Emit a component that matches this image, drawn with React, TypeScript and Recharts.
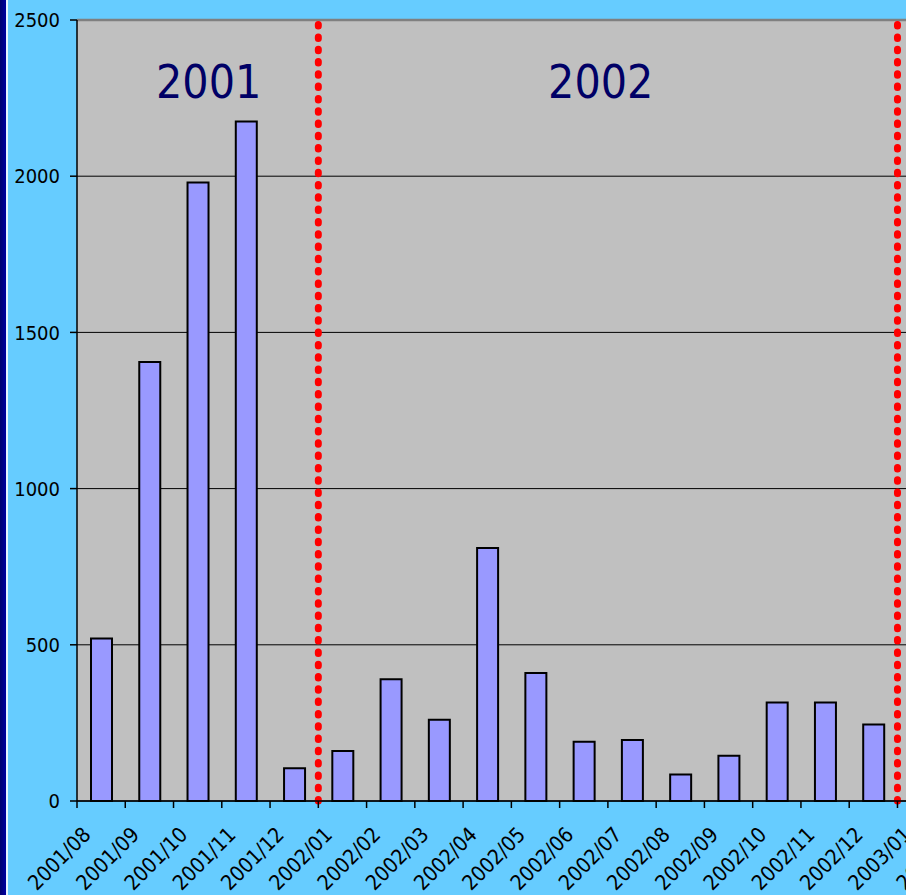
import React from "react";
import {
  Bar,
  BarChart,
  CartesianGrid,
  ReferenceLine,
  XAxis,
  YAxis,
} from "recharts";

const FONT = "'DejaVu Sans Condensed', 'Liberation Sans', Arial, sans-serif";

const months = [
  "2001/08", "2001/09", "2001/10", "2001/11", "2001/12",
  "2002/01", "2002/02", "2002/03", "2002/04", "2002/05", "2002/06",
  "2002/07", "2002/08", "2002/09", "2002/10", "2002/11", "2002/12",
  "2003/01", "2003/02",
];

const counts: (number | null)[] = [
  520, 1405, 1980, 2175, 105,
  160, 390, 260, 810, 410, 190,
  195, 85, 145, 315, 315, 245,
  null, null,
];

const yTicks = [0, 500, 1000, 1500, 2000, 2500];

// year boundaries (start of first month of the year)
const yearStarts = ["2002/01", "2003/01"];

const data = months.map((month, i) => ({ month, count: counts[i] }));

function MonthTick(props: any) {
  const { x, y, payload } = props;
  const edge = x - (payload.offset ?? 24.13);
  const tx = x - 9;
  const ty = y + 35;
  return (
    <g>
      <line x1={edge} y1={y} x2={edge} y2={y + 7} stroke="#000" strokeWidth={1.5} />
      <text
        x={tx}
        y={ty}
        transform={`rotate(-45 ${tx} ${ty})`}
        textAnchor="end"
        fontSize={21}
        fontFamily={FONT}
        fill="#000"
      >
        {payload.value}
      </text>
    </g>
  );
}

function YearLabel(props: any) {
  const { viewBox, text, shift } = props;
  if (!viewBox) return null;
  return (
    <text
      x={viewBox.x + shift}
      y={viewBox.y + 78}
      textAnchor="middle"
      fontSize={46}
      fontFamily={FONT}
      fill="#000066"
    >
      {text}
    </text>
  );
}

export default function App() {
  return (
    <div
      style={{
        position: "absolute",
        left: 0,
        top: 0,
        width: 906,
        height: 895,
        overflow: "hidden",
        background: "#66CCFF",
      }}
    >
      <div
        style={{
          position: "absolute",
          left: 0,
          top: 0,
          width: 6,
          height: 895,
          background: "linear-gradient(to right, #000070, #0000A0)",
          borderRight: "2px solid #E8F4FF",
        }}
      />
      <BarChart
        width={994}
        height={895}
        data={data}
        margin={{ top: 20, right: 0, bottom: 0, left: 0 }}
        barSize={21}
      >
        <CartesianGrid vertical={false} stroke="#000" fill="#C0C0C0" fillOpacity={1} />
        <XAxis
          dataKey="month"
          interval={0}
          height={94}
          tickLine={false}
          tickSize={0}
          tickMargin={0}
          axisLine={{ stroke: "#000", strokeWidth: 1.5 }}
          tick={<MonthTick />}
        />
        <YAxis
          width={77}
          domain={[0, 2500]}
          ticks={yTicks}
          interval={0}
          tickSize={7}
          tickMargin={10}
          tickLine={{ stroke: "#000", strokeWidth: 1.5 }}
          axisLine={{ stroke: "#000", strokeWidth: 1.5 }}
          tick={{ fill: "#000", fontSize: 20, fontFamily: FONT }}
        />
        <ReferenceLine y={2500} stroke="#808080" strokeWidth={2.5} />
        <Bar
          dataKey="count"
          fill="#9999FF"
          stroke="#000"
          strokeWidth={2}
          isAnimationActive={false}
        />
        {yearStarts.map((m) => (
          <ReferenceLine
            key={m}
            x={m}
            position="start"
            stroke="#FF0000"
            strokeWidth={7}
            strokeDasharray="1.5 10.8"
            strokeLinecap="round"
          />
        ))}
        <ReferenceLine
          x="2001/10"
          stroke="none"
          label={<YearLabel text="2001" shift={11} />}
        />
        <ReferenceLine
          x="2002/06"
          stroke="none"
          label={<YearLabel text="2002" shift={17} />}
        />
      </BarChart>
    </div>
  );
}
